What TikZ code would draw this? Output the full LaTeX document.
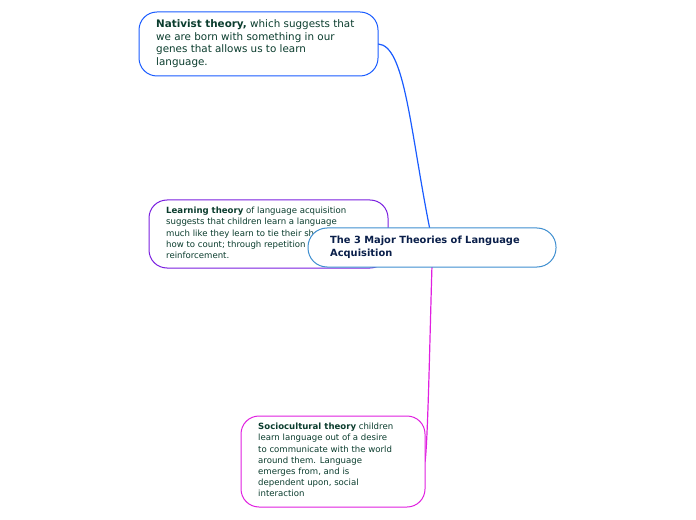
\documentclass[tikz,border=0pt]{standalone}
\usepackage{fontspec}
\setmainfont{DejaVu Sans}
\definecolor{txt}{HTML}{0B3D2E}
\definecolor{ctxt}{HTML}{0A1F4A}
\definecolor{cblue}{HTML}{1A5CFF}
\definecolor{cpurp}{HTML}{7A1FE0}
\definecolor{cmag}{HTML}{E020E0}
\definecolor{cmain}{HTML}{3F8FD0}
\begin{document}
\begin{tikzpicture}[x=1bp,y=-1bp,
  tt/.style={anchor=north west,text=txt,align=left,inner sep=0pt}]
\useasboundingbox (0,0) rectangle (696,520);
\coordinate (c1) at (430,230);
\draw[cpurp,line width=1bp] (c1) .. controls (425,235) and (400,234) .. (388,234);
\draw[cblue,line width=1.2bp] (c1) .. controls (410,130) and (405,45) .. (378,44);
\draw[cmag,line width=1.2bp] (432,265) .. controls (430,330) and (428,440) .. (425,462);
\draw[cblue,line width=1bp,rounded corners=18bp,fill=white] (139,12) rectangle (378,76);
\node[tt,font=\fontsize{10.4}{13}\selectfont] (n) at (156,19) {\textbf{Nativist theory,} which suggests that\\ we are born with something in our\\ genes that allows us to learn\\ language.};
\draw[cpurp,line width=1bp,rounded corners=18bp,fill=white] (149,200) rectangle (388,268);
\node[tt,font=\fontsize{8.6}{11.2}\selectfont] (l) at (166,207) {\textbf{Learning theory} of language acquisition\\ suggests that children learn a language\\ much like they learn to tie their shoes or\\ how to count; through repetition and\\ reinforcement.};
\draw[cmain,line width=1bp,rounded corners=19bp,fill=white] (308,228) rectangle (556,267);
\node[tt,text=ctxt,font=\bfseries\fontsize{9.9}{13}\selectfont] (c) at (330,236) {The 3 Major Theories of Language\\ Acquisition};
\draw[cmag,line width=1bp,rounded corners=18bp,fill=white] (241,416) rectangle (425,507);
\node[tt,font=\fontsize{8.6}{11.2}\selectfont] (s) at (258,423) {\textbf{Sociocultural theory} children\\ learn language out of a desire\\ to communicate with the world\\ around them. Language\\ emerges from, and is\\ dependent upon, social\\ interaction};
\end{tikzpicture}
\end{document}
